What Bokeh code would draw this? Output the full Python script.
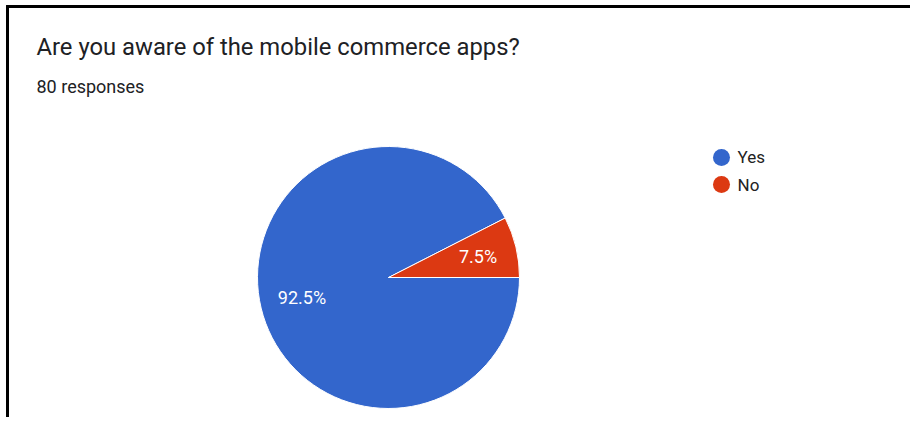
from math import pi
from bokeh.plotting import figure
from bokeh.models import Range1d, ColumnDataSource
from bokeh.core.properties import value
from bokeh.embed import file_html
from bokeh.resources import INLINE

title_text = "Are you aware of the mobile commerce apps?"
subtitle_text = "80 responses"
categories = ["Yes", "No"]
counts = [74, 6]
colors = ["#3366CC", "#DC3912"]

W, H = 910, 417
p = figure(width=W, height=H, output_backend="svg", toolbar_location=None,
           x_range=Range1d(0, W), y_range=Range1d(0, H), min_border=0,
           background_fill_color="white", border_fill_color="white")
p.axis.visible = False
p.grid.visible = False
p.outline_line_color = None

# frame border (left and top)
p.quad(left=[6, 6], right=[8, W], bottom=[0, H - 7], top=[H - 5, H - 5], color="black")

total = sum(counts)
# "No" slice starts at 3 o'clock going counter-clockwise, "Yes" fills the rest
fracs = [c / total for c in counts]
no_end = fracs[1] * 2 * pi
starts = [no_end, 0.0]
ends = [2 * pi, no_end]
cx, cy, r = 388, 140, 131
src = ColumnDataSource(dict(start=starts, end=ends, color=colors, cat=categories))
p.wedge(x=cx, y=cy, radius=r, radius_units="screen", start_angle="start", end_angle="end",
        fill_color="color", line_color="white", line_width=1, source=src)

labels = [f"{f*100:.1f}%" for f in fracs]
p.text(x=[301.5, 477.5], y=[120, 161], text=labels, text_color="white",
       text_font=value("Roboto"), text_font_size="18px", text_align="center",
       text_baseline="middle")

p.text(x=[36], y=[H - 46], text=[title_text], text_color="#202124",
       text_font=value("Roboto"), text_font_size="23.8px", text_baseline="alphabetic")
p.text(x=[36], y=[H - 86], text=[subtitle_text], text_color="#202124",
       text_font=value("Roboto"), text_font_size="18px", text_baseline="alphabetic")

p.scatter(x=[721, 721], y=[H - 157, H - 184], size=17, color=colors, line_color=None)
p.text(x=[737, 737], y=[H - 156, H - 184], text=categories, text_color="#222222",
       text_font=value("Roboto"), text_font_size="17px", text_baseline="middle")

open("out.html", "w").write(file_html(p, INLINE))
